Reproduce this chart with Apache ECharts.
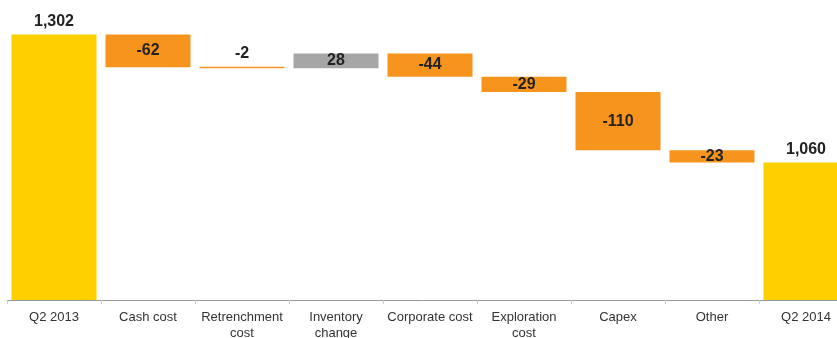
<!DOCTYPE html>
<html>
<head>
<meta charset="utf-8">
<script src="https://cdn.jsdelivr.net/npm/echarts@6/dist/echarts.min.js"></script>
<style>
  html, body { margin: 0; padding: 0; background: #fff; }
  #main { width: 837px; height: 338px; }
</style>
</head>
<body>
<div id="main"></div>
<script>
// categories along the x axis
var categories = ['Q2 2013', 'Cash cost', 'Retrenchment\ncost', 'Inventory\nchange',
  'Corporate cost', 'Exploration\ncost', 'Capex', 'Other', 'Q2 2014'];
// opening and closing totals
var startTotal = 1302;
var endTotal = 1060;
// bridge steps between the two totals
var changes = [-62, -2, 28, -44, -29, -110, -23];

var YELLOW = '#FFD000';
var ORANGE = '#F7941D';
var GREY = '#A6A6A6';

// build the invisible base + visible bar for each column
var baseData = [];
var barData = [];
var running = startTotal;
baseData.push(0);
barData.push({ value: startTotal, raw: startTotal, itemStyle: { color: YELLOW }, label: { position: 'top' } });
for (var i = 0; i < changes.length; i++) {
  var c = changes[i];
  var next = running + c;
  baseData.push(Math.min(running, next));
  var item = {
    value: Math.abs(c),
    raw: c,
    itemStyle: { color: c < 0 ? ORANGE : GREY }
  };
  // very small steps get their label on top
  if (Math.abs(c) < 5) {
    item.label = { position: 'top' };
  }
  barData.push(item);
  running = next;
}
baseData.push(0);
barData.push({ value: endTotal, raw: endTotal, itemStyle: { color: YELLOW }, label: { position: 'top' } });

var chart = echarts.init(document.getElementById('main'));

var option = {
  backgroundColor: '#ffffff',
  animation: false,
  textStyle: { fontFamily: 'Liberation Sans, Arial, sans-serif' },
  grid: { left: 7, top: 9, width: 846, height: 291, outerBoundsMode: 'none', containLabel: false },
  xAxis: {
    type: 'category',
    data: categories,
    axisLine: { lineStyle: { color: '#999999', width: 1 } },
    axisTick: { show: true, length: 4, lineStyle: { color: '#cccccc' } },
    axisLabel: { color: '#333333', fontSize: 13, lineHeight: 16, margin: 9, interval: 0 }
  },
  yAxis: {
    type: 'value',
    min: 800,
    max: 1350,
    show: false,
    splitLine: { show: false }
  },
  series: [{
    type: 'bar',
    stack: 'wf',
    barWidth: 85,
    itemStyle: { color: 'transparent' },
    emphasis: { disabled: true },
    data: baseData
  }, {
    type: 'bar',
    stack: 'wf',
    barWidth: 85,
    barMinHeight: 1.5,
    label: {
      show: true,
      position: 'inside',
      color: '#222222',
      fontSize: 16,
      fontWeight: 'bold',
      formatter: function (p) {
        return echarts.format.addCommas(p.data.raw);
      }
    },
    data: barData
  }]
};

chart.setOption(option);
</script>
</body>
</html>
